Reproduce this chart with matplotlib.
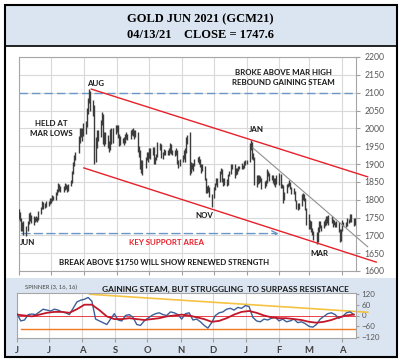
import matplotlib
matplotlib.use("Agg")
import matplotlib.pyplot as plt
import matplotlib.dates as mdates
from matplotlib.patches import Rectangle
import pandas as pd

# daily bars GCM21, Jun 1 2020 .. Apr 13 2021 (business days)
highs = [
    1775, 1765, 1750, 1738, 1740, 1725, 1740, 1762, 1765, 1758, 1755, 1752, 1753, 1752, 1768, 1780, 1795, 1793, 1790, 1796, 1797, 1806,  # jun
    1806, 1812, 1810, 1822, 1830, 1848, 1845, 1838, 1838, 1846, 1845, 1840, 1845, 1855, 1880, 1905, 1925, 1935, 1978, 2000, 2002, 2000, 2015,  # jul
    2020, 2058, 2085, 2110, 2105, 2080, 2065, 1975, 1995, 1995, 2022, 2045, 2040, 1990, 1990, 1980, 1965, 1998, 2000, 2002, 2010,  # aug
    2010, 2008, 1985, 1978, 1972, 1975, 1985, 1990, 1985, 1995, 1998, 2002, 1995, 1995, 1990, 1950, 1938, 1910, 1910, 1920, 1935, 1935,  # sep
    1945, 1945, 1948, 1948, 1920, 1928, 1962, 1960, 1955, 1935, 1942, 1940, 1940, 1945, 1958, 1957, 1940, 1940, 1944, 1940, 1910, 1915,  # oct
    1925, 1940, 1945, 1975, 1980, 1990, 1905, 1902, 1902, 1915, 1920, 1922, 1915, 1900, 1900, 1895, 1862, 1838, 1840, 1835, 1815,  # nov
    1835, 1848, 1860, 1862, 1880, 1890, 1885, 1860, 1860, 1858, 1872, 1880, 1900, 1900, 1900, 1890, 1890, 1895, 1895, 1903, 1898, 1908, 1912,  # dec
    1912, 1958, 1967, 1962, 1930, 1920, 1870, 1870, 1868, 1865, 1862, 1852, 1855, 1885, 1880, 1876, 1870, 1870, 1862, 1860, 1870,  # jan
    1875, 1872, 1845, 1842, 1822, 1845, 1848, 1855, 1850, 1835, 1832, 1825, 1800, 1790, 1792, 1815, 1820, 1815, 1806, 1778,  # feb
    1760, 1742, 1740, 1720, 1712, 1710, 1722, 1740, 1740, 1730, 1740, 1745, 1755, 1755, 1758, 1755, 1745, 1742, 1738, 1740, 1738, 1718, 1718,  # mar
    1742, 1738, 1738, 1748, 1746, 1760, 1760, 1748, 1750,  # apr
]
lows = [
    1745, 1740, 1712, 1712, 1700, 1698, 1712, 1733, 1740, 1735, 1730, 1738, 1740, 1738, 1742, 1760, 1773, 1775, 1776, 1780, 1783, 1788,
    1790, 1795, 1800, 1800, 1812, 1822, 1825, 1822, 1822, 1828, 1830, 1822, 1825, 1838, 1848, 1872, 1895, 1910, 1930, 1960, 1975, 1965, 1978,
    1985, 2005, 2040, 2070, 2050, 2035, 1900, 1905, 1945, 1965, 1975, 2010, 1955, 1950, 1955, 1945, 1935, 1940, 1955, 1958, 1985,
    1990, 1972, 1950, 1952, 1958, 1952, 1960, 1970, 1968, 1970, 1982, 1978, 1970, 1975, 1935, 1920, 1885, 1875, 1870, 1890, 1910, 1905,
    1918, 1915, 1925, 1900, 1900, 1910, 1920, 1940, 1918, 1915, 1925, 1925, 1925, 1925, 1932, 1928, 1925, 1922, 1925, 1900, 1890, 1895,
    1905, 1915, 1905, 1930, 1955, 1870, 1875, 1885, 1880, 1895, 1905, 1900, 1892, 1875, 1880, 1855, 1820, 1820, 1822, 1808, 1780,
    1805, 1828, 1840, 1835, 1850, 1872, 1850, 1838, 1840, 1838, 1840, 1865, 1872, 1885, 1860, 1870, 1872, 1880, 1885, 1885, 1885, 1890, 1898,
    1900, 1905, 1940, 1915, 1910, 1840, 1835, 1845, 1848, 1850, 1830, 1832, 1838, 1848, 1865, 1852, 1855, 1848, 1840, 1835, 1845,
    1840, 1832, 1832, 1790, 1800, 1818, 1835, 1838, 1830, 1815, 1815, 1795, 1775, 1772, 1775, 1782, 1800, 1796, 1770, 1730,
    1718, 1718, 1710, 1700, 1688, 1677, 1682, 1710, 1720, 1712, 1720, 1725, 1728, 1735, 1730, 1735, 1722, 1728, 1722, 1722, 1708, 1680, 1685,
    1712, 1725, 1724, 1726, 1735, 1737, 1738, 1725, 1730,
]

# spinner (3, 16, 16): fast line every 3.5 days, slow line weekly
spin_fast = [10, -30, -25, 5, 8, 5, 20, 35, 30, 25, 35, 30, 20, 15, 5, 40, 75, 85, 90, 100,
             80, -20, -30, -40, -50, -20, 10, -25, -30, 0, 5, -10, -50, -55, -30, -15, 0, 10, 15, 5,
             0, 20, 15, 5, -20, 10, 15, -25, -20, -35, -55, -70, -40, 0, 15, 20, 35, 40, 30, 45,
             40, 55, 50, -10, -30, -35, -20, -25, -15, -10, -30, -20, -35, -30, -20, -40, -35, -45, -60, -65,
             -50, -20, -5, 10, 15, 5, -15, -5, 15, 20, 5]
spin_slow = [5, 0, -5, 5, 15, 20, 20, 15, 35, 60, 60, 30, -5, -20, -20, -15, -20, -25, -20, -15,
             -5, 0, 5, 0, -10, -20, -35, -30, -15, 5, 20, 25, 15, 0, -10, -15, -15, -20, -25, -35,
             -40, -35, -25, -10, 0, 5]

month_labels = ["J", "J", "A", "S", "O", "N", "D", "J", "F", "M", "A"]
price_ticks = list(range(1600, 2201, 50))
spin_ticks = [120, 60, 0, -60, -120]

start = pd.Timestamp("2020-06-01")
dates = pd.bdate_range(start, periods=len(highs))
fast_dates = [start + pd.Timedelta(hours=84 * i) for i in range(len(spin_fast))]
slow_dates = pd.date_range(start, periods=len(spin_slow), freq="7D")
months = pd.date_range(start, "2021-04-30", freq="MS")
x0, x1 = mdates.date2num(start), mdates.date2num(pd.Timestamp("2021-04-14"))
d = lambda s: mdates.date2num(pd.Timestamp(s))

W, H = 401, 364
fig = plt.figure(figsize=(W / 100, H / 100), dpi=100)
plt.rcParams['font.family'] = ['Lato', 'DejaVu Sans']

def rect(a, b, c, e):
    return [a / W, 1 - e / H, (c - a) / W, (e - b) / H]

blue_bg = "#dbe5f1"
fig.patches.append(Rectangle((5 / W, 1 - 46 / H), 392 / W, 41 / H, transform=fig.transFigure,
                             facecolor=blue_bg, edgecolor="black", lw=1.2, zorder=-2))
fig.patches.append(Rectangle((5 / W, 1 - 357 / H), 392 / W, 79 / H, transform=fig.transFigure,
                             facecolor=blue_bg, edgecolor="none", zorder=-2))
fig.patches.append(Rectangle((5 / W, 1 - 357 / H), 392 / W, 352 / H, transform=fig.transFigure,
                             facecolor="none", edgecolor="black", lw=1.5, zorder=5))
fig.text(200 / W, 1 - 19 / H, "GOLD JUN 2021 (GCM21)", family="Liberation Serif", weight="bold",
         fontsize=9, ha="center", va="center")
fig.text(200 / W, 1 - 34.5 / H, "04/13/21    CLOSE = 1747.6", family="Liberation Serif", weight="bold",
         fontsize=9, ha="center", va="center")

# ---- price panel
ax = fig.add_axes(rect(19, 57, 356, 271))
ax.vlines(dates, lows, highs, color="#3c3c3c", lw=1.0, zorder=3)
ax.set_xlim(x0, x1)
ax.set_ylim(1600, 2200)
ax.set_xticks(months)
ax.set_xticklabels([])
ax.tick_params(axis="x", length=3, color="#a0a0a0")
ax.yaxis.tick_right()
ax.set_yticks(price_ticks)
ax.tick_params(axis="y", labelsize=6.2, labelcolor="#595959", length=3, color="#a0a0a0", pad=3)
ax.grid(True, color="#d9d9d9", lw=0.8)
for s in ax.spines.values():
    s.set_color("#a6a6a6")

ax.axhline(2100, color="#6a96c8", lw=1, dashes=(6, 3), zorder=2)
ax.annotate("", xy=(d("2021-02-03"), 1705), xytext=(x0, 1705),
            arrowprops=dict(arrowstyle="->", color="#6a96c8", lw=1, linestyle=(0, (6, 3))), zorder=2)
ax.plot([d("2020-08-08"), d("2021-04-25")], [2110, 1864], color="#e8202a", lw=1, clip_on=False, zorder=4)
ax.plot([d("2020-08-01"), d("2021-05-03")], [1889, 1625], color="#e8202a", lw=1, clip_on=False, zorder=4)
ax.plot([d("2021-01-07"), d("2021-04-25")], [1945, 1668], color="#909090", lw=0.8, clip_on=False, zorder=4)

kw = dict(fontsize=5.7, weight="bold", ha="center", va="center", color="#1a1a1a")
ax.text(d("2020-08-12"), 2127, "AUG", **kw)
ax.text(d("2020-07-01"), 2000, "HELD AT\nMAR LOWS", linespacing=1.4, **kw)
ax.text(d("2021-02-05"), 2143, "BROKE ABOVE MAR HIGH\nREBOUND GAINING STEAM", linespacing=1.4, **kw)
ax.text(d("2021-01-10"), 1998, "JAN", **kw)
ax.text(d("2020-11-22"), 1757, "NOV", **kw)
ax.text(d("2021-03-11"), 1650, "MAR", **kw)
ax.text(d("2020-06-09"), 1679, "JUN", **kw)
ax.text(d("2020-10-18"), 1679, "KEY SUPPORT AREA", **{**kw, "color": "#e8202a"})
ax.text(d("2020-10-15"), 1625, "BREAK ABOVE $1750 WILL SHOW RENEWED STRENGTH", **kw)

# ---- spinner panel
bx = fig.add_axes(rect(17, 293, 356, 338))
bx.set_facecolor("white")
bx.plot(fast_dates, spin_fast, color="#3d5f9a", lw=1, zorder=3)
bx.plot(slow_dates, spin_slow, color="#c0182a", lw=1.3, zorder=4)
bx.axhline(0, color="#e8202a", lw=0.6, zorder=2)
bx.plot([d("2020-06-05"), d("2021-04-13")], [-75, -75], color="#f07820", lw=1, zorder=2)
bx.plot([d("2020-08-08"), d("2021-04-25")], [118, 18], color="#f5c342", lw=1.2, clip_on=False, zorder=2)
bx.set_xlim(x0, x1)
bx.set_ylim(-125, 125)
bx.set_xticks(months)
bx.set_xticklabels(month_labels)
bx.tick_params(axis="x", labelsize=6.8, labelcolor="#404040", length=3, color="#a0a0a0", pad=3)
for lab in bx.get_xticklabels():
    lab.set_fontweight("bold")
bx.yaxis.tick_right()
bx.set_yticks(spin_ticks)
bx.tick_params(axis="y", labelsize=5.8, labelcolor="#595959", length=2, color="#a0a0a0", pad=2)
bx.grid(True, axis="x", color="#d9d9d9", lw=0.8)
for s in bx.spines.values():
    s.set_color("#a6a6a6")
fig.text(25 / W, 1 - 287 / H, "SPINNER (3, 16, 16)", fontsize=4.2, color="#404040", va="center")
fig.text(225 / W, 1 - 289 / H, "GAINING STEAM, BUT STRUGGLING  TO SURPASS RESISTANCE",
         fontsize=6.0, weight="bold", ha="center", va="center", color="#1a1a1a")

fig.savefig("out.png", dpi=100)
